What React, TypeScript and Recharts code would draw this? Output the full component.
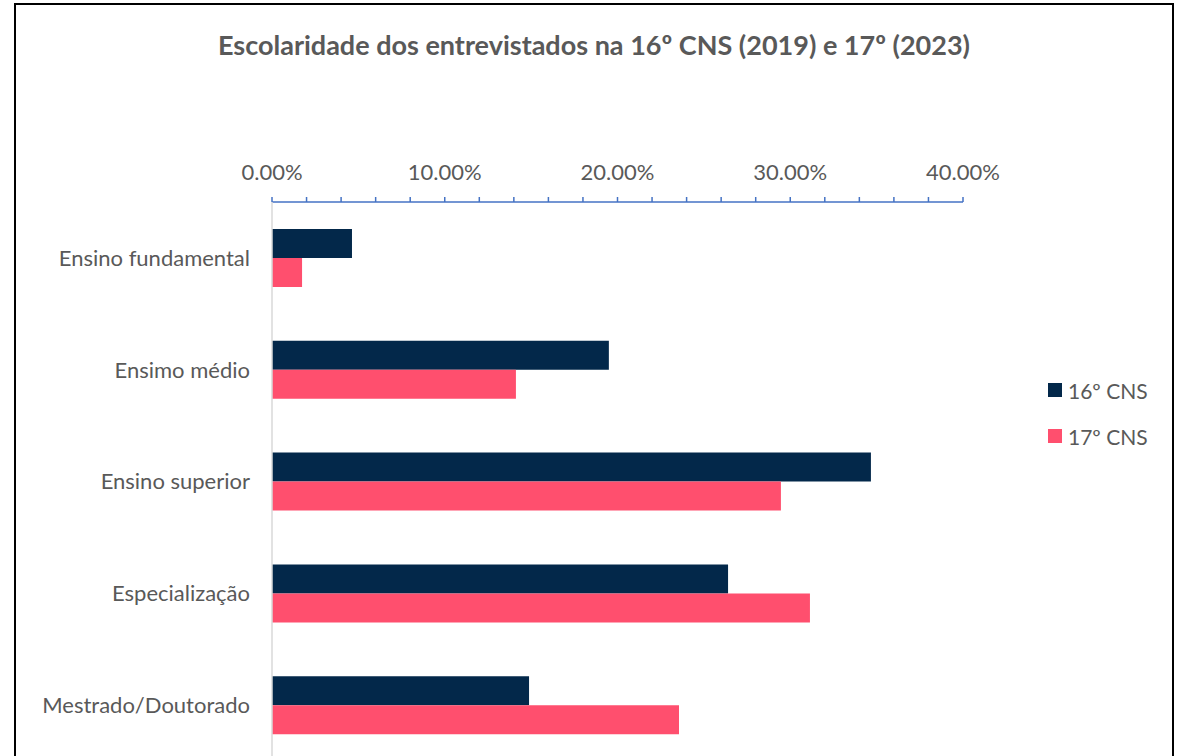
import React from 'react';
import { BarChart, Bar, XAxis, YAxis, Legend } from 'recharts';

const categories = [
  'Ensino fundamental',
  'Ensimo médio',
  'Ensino superior',
  'Especialização',
  'Mestrado/Doutorado',
];
const cns16 = [0.0463, 0.195, 0.3467, 0.264, 0.1488];
const cns17 = [0.0174, 0.1412, 0.2946, 0.3114, 0.2356];
const xTicks = [
  0, 0.02, 0.04, 0.06, 0.08, 0.1, 0.12, 0.14, 0.16, 0.18, 0.2,
  0.22, 0.24, 0.26, 0.28, 0.3, 0.32, 0.34, 0.36, 0.38, 0.4,
];
const labeledTicks = [0, 0.1, 0.2, 0.3, 0.4];

const data = categories.map((name, i) => ({ name, cns16: cns16[i], cns17: cns17[i] }));

const FONT = 'Lato, "Open Sans", sans-serif';
const GREY = '#595959';
const NAVY = '#03284A';
const PINK = '#FF4F6E';

const fmtTick = (v: number) =>
  labeledTicks.some((t) => Math.abs(t - v) < 1e-9) ? `${(v * 100).toFixed(2)}%` : '';

function LegendBox({ payload }: any) {
  return (
    <div style={{ fontFamily: FONT, fontSize: 21, color: GREY }}>
      {(payload || []).map((p: any) => (
        <div key={p.value} style={{ display: 'flex', alignItems: 'center', height: 46 }}>
          <span style={{ width: 14, height: 14, background: p.color, marginRight: 6, display: 'inline-block' }} />
          {p.value}
        </div>
      ))}
    </div>
  );
}

export default function App() {
  return (
    <div style={{ position: 'absolute', left: 0, top: 0, width: 1183, height: 756, overflow: 'hidden', background: '#fff' }}>
      <div
        style={{
          position: 'absolute',
          left: 14,
          top: 3,
          width: 1160,
          height: 800,
          border: '2px solid #000',
          boxSizing: 'border-box',
        }}
      />
      <div
        style={{
          position: 'absolute',
          left: 15,
          top: 28,
          width: 1158,
          textAlign: 'center',
          fontFamily: FONT,
          fontWeight: 'bold',
          fontSize: 27,
          color: GREY,
        }}
      >
        Escolaridade dos entrevistados na 16º CNS (2019) e 17º (2023)
      </div>
      <div style={{ position: 'absolute', left: 0, top: 0 }}>
        <BarChart
          width={1183}
          height={800}
          data={data}
          layout="vertical"
          margin={{ top: 150, right: 220, left: 15, bottom: 39 }}
          barGap={0}
          barSize={29}
        >
          <XAxis
            type="number"
            orientation="top"
            height={52}
            domain={[0, 0.4]}
            ticks={xTicks}
            interval={0}
            tickFormatter={fmtTick}
            stroke="#4472C4"
            tickSize={5}
            tickMargin={17}
            tick={{ fill: GREY, fontSize: 22, fontFamily: FONT }}
            axisLine={{ stroke: '#4472C4', strokeWidth: 1.5 }}
            tickLine={{ stroke: '#4472C4', strokeWidth: 1.5 }}
          />
          <YAxis
            type="category"
            dataKey="name"
            width={257}
            tickSize={0}
            tickMargin={22}
            tickLine={false}
            axisLine={{ stroke: '#D9D9D9', strokeWidth: 1.5 }}
            tick={{ fill: GREY, fontSize: 22, fontFamily: FONT }}
          />
          <Legend
            layout="horizontal"
            verticalAlign="middle"
            align="center"
            width={130}
            wrapperStyle={{ left: 1048, top: 367 }}
            content={<LegendBox />}
          />
          <Bar dataKey="cns16" name="16º CNS" fill={NAVY} isAnimationActive={false} />
          <Bar dataKey="cns17" name="17º CNS" fill={PINK} isAnimationActive={false} />
        </BarChart>
      </div>
    </div>
  );
}
